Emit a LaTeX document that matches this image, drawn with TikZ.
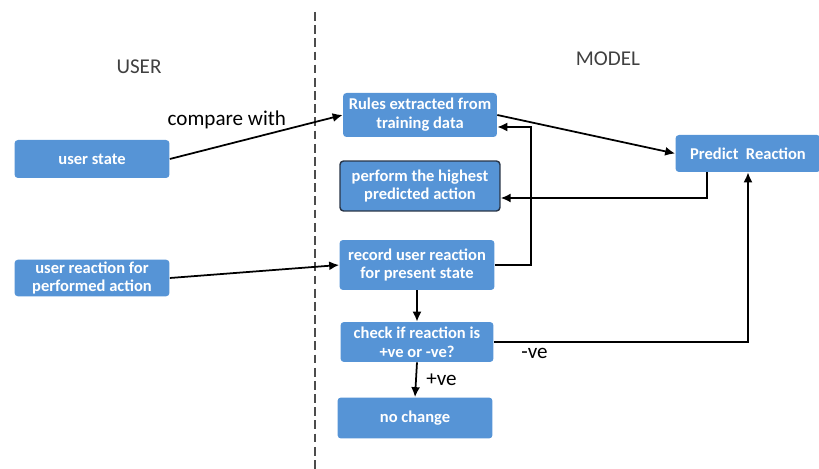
\documentclass[tikz,border=0pt]{standalone}
\usepackage{fontspec}
\setmainfont{Carlito}
\usetikzlibrary{arrows.meta}
\definecolor{boxblue}{RGB}{86,148,214}
\definecolor{darkedge}{RGB}{40,52,70}

\begin{document}
\begin{tikzpicture}[x=0.02cm, y=-0.02cm,
    block/.style={rectangle, rounded corners=2pt, fill=boxblue, text=white,
                  font=\bfseries\fontsize{9.4}{10.8}\selectfont, align=center,
                  minimum width=3.1cm, minimum height=0.8cm, inner sep=1pt},
    heading/.style={text=black!75, font=\fontsize{12}{14}\selectfont},
    lbl/.style={font=\fontsize{12}{14}\selectfont},
    arrow/.style={-{Latex[length=2mm,width=1.8mm]}, line width=1pt, black}
]
    \useasboundingbox (0,0) rectangle (819,469);

    % Columns
    \node[heading] (userhead) at (139,67) {USER};
    \node[heading] (modelhead) at (608,59) {MODEL};
    \coordinate (divtop) at (315,12);
    \coordinate (divbot) at (315,469);
    \draw[dash pattern=on 5pt off 2.5pt, thick, black!70] (divtop) -- (divbot);

    % User side
    \node[block, minimum height=0.76cm] (ustate) at (92,159) {user state};
    \node[block, minimum height=0.72cm] (ureact) at (92,278) {user reaction for\\performed action};

    % Model side
    \node[block, minimum width=3.08cm, minimum height=0.88cm] (rules) at (420,115) {Rules extracted from\\training data};
    \node[block, minimum width=3.2cm, minimum height=1cm, draw=darkedge, thick] (perform) at (420,186) {perform the highest\\predicted action};
    \node[block, minimum height=1cm] (record) at (417,265) {record user reaction\\for present state};
    \node[block, minimum width=3.06cm] (check) at (417,342) {check if reaction is\\+ve or -ve?};
    \node[block, minimum height=0.82cm] (nochange) at (415,418) {no change};
    \node[block, minimum width=2.9cm, minimum height=0.74cm] (predict) at (748,153.5) {Predict\ \ Reaction};

    % Arrows
    \draw[arrow] (ustate.east) -- node[lbl, pos=0.33, above=0.3cm, inner sep=0pt] {compare with} (rules.west);
    \draw[arrow] (ureact.east) -- (record.west);
    \draw[arrow] (rules.east) -- (predict.west);
    \draw[arrow] ([xshift=-0.82cm]predict.south) |- ([yshift=-0.24cm]perform.east);
    \draw[arrow] (record.east) -- ++(36,0) |- ([yshift=-0.24cm]rules.east);
    \draw[arrow] (record.south) -- (check.north);
    \draw[arrow] (check.east) -| node[lbl, pos=0.08, below] {-ve} (predict.south);
    \draw[arrow] (check.south) -- node[lbl, right=2pt] {+ve} (nochange.north);
\end{tikzpicture}
\end{document}
